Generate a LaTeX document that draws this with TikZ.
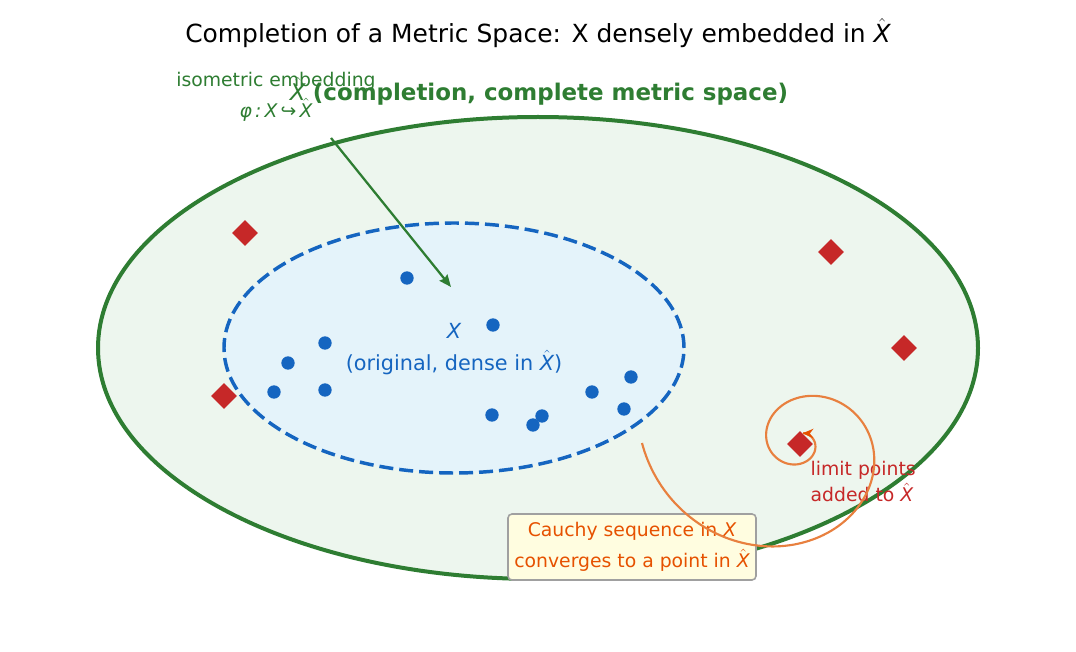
\documentclass[tikz,border=0pt]{standalone}
\usepackage{fontspec}
\setmainfont{DejaVu Sans}
\usetikzlibrary{arrows.meta,shapes.geometric}
\definecolor{cgreen}{HTML}{2E7D32}
\definecolor{cgreenfill}{HTML}{EDF6EE}
\definecolor{cblue}{HTML}{1565C0}
\definecolor{cbluefill}{HTML}{E4F3FA}
\definecolor{cred}{HTML}{C62828}
\definecolor{corange}{HTML}{E65100}
\definecolor{cspiral}{HTML}{E8803F}
\definecolor{cboxfill}{HTML}{FFFDE0}
\definecolor{cboxedge}{HTML}{A0A0A0}
\newcommand\Xh{$\hat{\mbox{\itshape X}}$}
\tikzset{
  dot/.style={circle,fill=cblue,inner sep=0pt,minimum size=10pt},
  limitpt/.style={diamond,fill=cred,inner sep=0pt,minimum size=19.5pt},
  big/.style={font=\fontsize{18.7}{22}\selectfont},
  bigbold/.style={font=\fontsize{17.2}{20}\selectfont},
  mid/.style={font=\fontsize{15.6}{24}\selectfont},
  small/.style={font=\fontsize{14.1}{20}\selectfont},
  boxtext/.style={font=\fontsize{14.1}{23.5}\selectfont},
}
\begin{document}
\begin{tikzpicture}[x=0.75pt,y=-0.75pt]
\useasboundingbox (0,0) rectangle (1076,652);
\fill[white] (0,0) rectangle (1076,652);
\node[big] (title) at (538,33) {Completion of a Metric Space: X densely embedded in \Xh};
% outer
\node[ellipse,draw=cgreen,fill=cgreenfill,line width=3pt,inner sep=0pt,minimum width=660pt,minimum height=346.5pt] (Xhat) at (538,348) {};
% inner
\node[ellipse,draw=cblue,fill=cbluefill,line width=2.6pt,dash pattern=on 10.5pt off 4.5pt,inner sep=0pt,minimum width=345pt,minimum height=187.5pt] (X) at (454,348) {};
\node[mid,text=cblue,align=center] (Xlab) at (454,349) {{\itshape X}\\(original, dense in \Xh)};
% dots
\foreach \i/\p in {1/{(407,278)},2/{(493,325)},3/{(325,343)},4/{(288,363)},5/{(274,392)},6/{(325,390)},7/{(492,415)},8/{(542,416)},9/{(533,425)},10/{(592,392)},11/{(631,377)},12/{(624,409)}}
  \node[dot] (d\i) at \p {};
% limit points
\foreach \i/\p in {1/{(245,233)},2/{(831,252)},3/{(904,348)},4/{(224,396)},5/{(800,444)}}
  \node[limitpt] (l\i) at \p {};
% labels
\node[bigbold,text=cgreen] (comp) at (539,91) {\Xh\ \textbf{(completion, complete metric space)}};
\node[small,text=cgreen] (iso) at (276,81) {isometric embedding};
\node[small,text=cgreen] (phi) at (276,110) {{\itshape φ\,:\,X\,↪\,}\Xh};
\coordinate (a1) at (331,138);
\coordinate (a2) at (451,287);
\draw[cgreen,line width=1.7pt,-{Stealth[length=9pt,width=7.5pt,inset=1pt]}] (a1) -- (a2);
% labels near limit point
\node[small,text=cred,align=left,anchor=west] (lim) at (806,481.5) {limit points\\added to \Xh};
\node[boxtext,text=corange,align=center,draw=cboxedge,line width=1.2pt,fill=cboxfill,rounded corners=3pt,minimum width=186pt,minimum height=49.5pt] (cauchy) at (632,547) {Cauchy sequence in {\itshape X}\\converges to a point in \Xh};
% spiral (drawn over the box)
\draw[cspiral,line width=1.6pt,-{Stealth[length=8pt,width=7pt,color=corange]}] plot[domain=0:10.75,samples=300,smooth] ({800-158*exp(-0.25*\x)*cos(deg(\x))},{443+0.94*158*exp(-0.25*\x)*sin(deg(\x))});
\end{tikzpicture}
\end{document}
